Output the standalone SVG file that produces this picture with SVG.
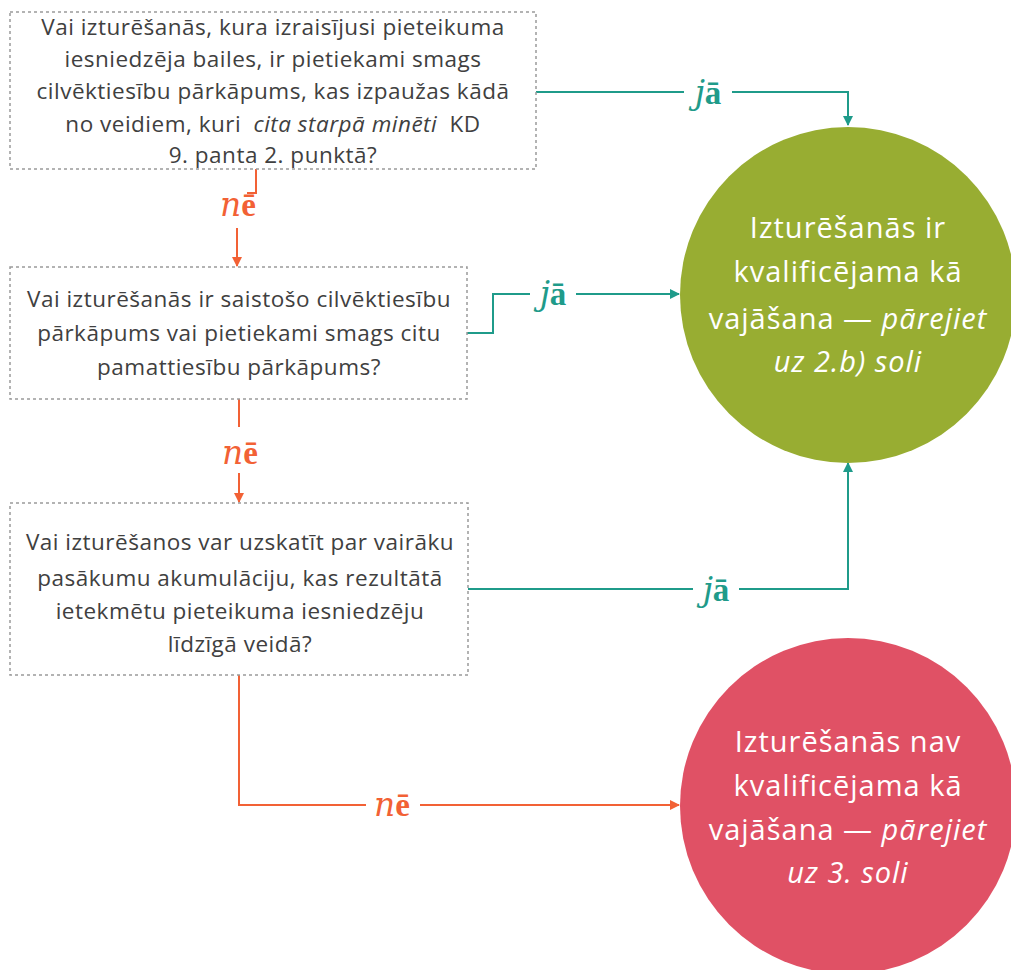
<svg xmlns="http://www.w3.org/2000/svg" width="1011" height="970" viewBox="0 0 1011 970">
<style>
.box{fill:#fff;stroke:#9a9a9a;stroke-width:1.5;stroke-dasharray:3 3}
.q{font-family:"Open Sans","Liberation Sans",sans-serif;font-size:22.5px;letter-spacing:0.5px;fill:#404040;text-anchor:middle}
.c{font-family:"Open Sans","Liberation Sans",sans-serif;font-size:29px;letter-spacing:1px;fill:#fff;text-anchor:middle}
.teal{fill:none;stroke:#1f9b8a;stroke-width:2}
.orng{fill:none;stroke:#f26135;stroke-width:2}
.lbl{font-size:33px;text-anchor:middle}
.s{font-family:"DejaVu Serif",serif;font-style:italic;font-weight:normal}
.b{font-family:"Liberation Serif",serif;font-weight:bold}
.lbg{fill:#fff}
</style>
<defs>
<marker id="at" markerWidth="10" markerHeight="10" refX="9" refY="5" orient="auto" markerUnits="userSpaceOnUse" viewBox="0 0 10 10"><path d="M0 0 L10 5 L0 10 Z" fill="#1f9b8a"/></marker>
<marker id="ao" markerWidth="10" markerHeight="10" refX="9" refY="5" orient="auto" markerUnits="userSpaceOnUse" viewBox="0 0 10 10"><path d="M0 0 L10 5 L0 10 Z" fill="#f26135"/></marker>
</defs>
<g id="connectors">
<path class="teal" d="M536 92 H848 V125" marker-end="url(#at)"/>
<path class="teal" d="M467 333 H493 V294 H679" marker-end="url(#at)"/>
<path class="teal" d="M468 589 H848 V463" marker-end="url(#at)"/>
<path class="orng" d="M256 169 V193 H237 V266" marker-end="url(#ao)"/>
<path class="orng" d="M239 399 V502" marker-end="url(#ao)"/>
<path class="orng" d="M239 675 V805 H679" marker-end="url(#ao)"/>
<rect class="lbg" x="684" y="78" width="48" height="30"/>
<text class="lbl" x="708" y="104" fill="#1f9b8a"><tspan class="s">j</tspan><tspan class="b">ā</tspan></text>
<rect class="lbg" x="530" y="280" width="46" height="30"/>
<text class="lbl" x="553" y="305" fill="#1f9b8a"><tspan class="s">j</tspan><tspan class="b">ā</tspan></text>
<rect class="lbg" x="693" y="575" width="46" height="30"/>
<text class="lbl" x="716" y="601" fill="#1f9b8a"><tspan class="s">j</tspan><tspan class="b">ā</tspan></text>
<rect class="lbg" x="212" y="186" width="35" height="42"/>
<text class="lbl" x="238" y="216" fill="#f26135"><tspan class="s">n</tspan><tspan class="b">ē</tspan></text>
<rect class="lbg" x="214" y="427" width="50" height="46"/>
<text class="lbl" x="240" y="464" fill="#f26135"><tspan class="s">n</tspan><tspan class="b">ē</tspan></text>
<rect class="lbg" x="366" y="790" width="54" height="30"/>
<text class="lbl" x="392" y="816" fill="#f26135"><tspan class="s">n</tspan><tspan class="b">ē</tspan></text>
</g>
<g id="q1">
<rect class="box" x="10" y="12" width="526" height="157"/>
<text class="q" x="273" y="35">Vai izturēšanās, kura izraisījusi pieteikuma</text>
<text class="q" x="273" y="67">iesniedzēja bailes, ir pietiekami smags</text>
<text class="q" x="273" y="99">cilvēktiesību pārkāpums, kas izpaužas kādā</text>
<text class="q" x="273" y="132">no veidiem, kuri <tspan dx="6" font-style="italic">cita starpā minēti</tspan><tspan dx="6"> KD</tspan></text>
<text class="q" x="273" y="163">9. panta 2. punktā?</text>
</g>
<g id="q2">
<rect class="box" x="10" y="267" width="457" height="132"/>
<text class="q" x="239" y="307">Vai izturēšanās ir saistošo cilvēktiesību</text>
<text class="q" x="239" y="341">pārkāpums vai pietiekami smags citu</text>
<text class="q" x="239" y="375">pamattiesību pārkāpums?</text>
</g>
<g id="q3">
<rect class="box" x="10" y="503" width="458" height="172"/>
<text class="q" x="240" y="550">Vai izturēšanos var uzskatīt par vairāku</text>
<text class="q" x="240" y="586">pasākumu akumulāciju, kas rezultātā</text>
<text class="q" x="240" y="619">ietekmētu pieteikuma iesniedzēju</text>
<text class="q" x="240" y="652">līdzīgā veidā?</text>
</g>
<g id="yes">
<circle cx="848" cy="295" r="168" fill="#98ad32"/>
<text class="c" x="848" y="238">Izturēšanās ir</text>
<text class="c" x="848" y="282">kvalificējama kā</text>
<text class="c" x="848" y="329">vajāšana — <tspan font-style="italic">pārejiet</tspan></text>
<text class="c" x="848" y="372" font-style="italic">uz 2.b) soli</text>
</g>
<g id="no">
<circle cx="848" cy="806" r="168" fill="#e05165"/>
<text class="c" x="848" y="752">Izturēšanās nav</text>
<text class="c" x="848" y="796">kvalificējama kā</text>
<text class="c" x="848" y="840">vajāšana — <tspan font-style="italic">pārejiet</tspan></text>
<text class="c" x="848" y="883" font-style="italic">uz 3. soli</text>
</g>
</svg>
